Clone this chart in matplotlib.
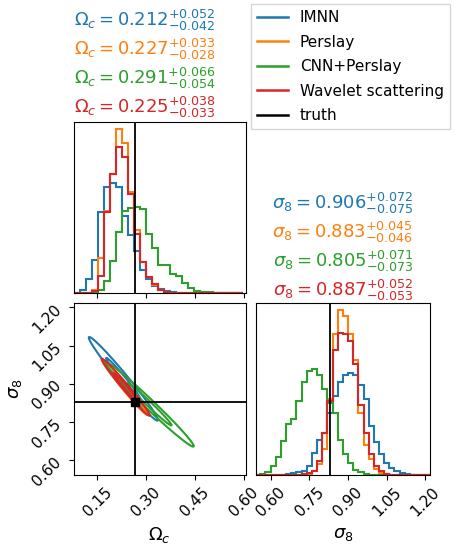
import numpy as np
import matplotlib
matplotlib.use("Agg")
import matplotlib.pyplot as plt

names = ["IMNN", "Perslay", "CNN+Perslay", "Wavelet scattering"]
colors = ["#1f77b4", "#ff7f0e", "#2ca02c", "#d62728"]
truth_om, truth_s8 = 0.267, 0.831

om_edges = 0.078 + 0.0185 * np.arange(29)
om_hist = [
    [0, 8, 40, 95, 233, 305, 315, 305, 222, 165, 120, 65, 40, 20, 12, 5, 2, 1, 0, 0, 0, 0, 0, 0, 0, 0, 0, 0],
    [0, 0, 0, 8, 100, 235, 340, 470, 430, 290, 180, 90, 45, 22, 10, 3, 1, 0, 0, 0, 0, 0, 0, 0, 0, 0, 0, 0],
    [0, 0, 0, 0, 10, 35, 92, 175, 235, 245, 248, 240, 170, 130, 80, 80, 55, 50, 30, 15, 5, 3, 2, 1, 0, 0, 0, 0],
    [0, 0, 0, 5, 48, 232, 340, 418, 390, 285, 170, 88, 45, 25, 10, 4, 1, 0, 0, 0, 0, 0, 0, 0, 0, 0, 0, 0],
]
s8_edges = 0.54 + 0.02 * np.arange(35)
s8_hist = [
    [0, 0, 0, 0, 0, 0, 3, 5, 8, 12, 25, 64, 100, 120, 175, 225, 265, 285, 290, 285, 255, 216, 140, 95, 60, 35, 20, 12, 5, 3, 1, 0, 0, 0],
    [0, 0, 0, 0, 0, 0, 0, 0, 0, 2, 4, 10, 30, 75, 215, 400, 469, 451, 400, 326, 176, 86, 46, 16, 5, 2, 0, 0, 0, 0, 0, 0, 0, 0],
    [0, 3, 8, 25, 50, 96, 146, 160, 211, 264, 295, 301, 285, 245, 205, 175, 100, 60, 35, 15, 8, 3, 1, 0, 0, 0, 0, 0, 0, 0, 0, 0, 0, 0],
    [0, 0, 0, 0, 0, 0, 0, 0, 0, 2, 5, 12, 40, 120, 210, 355, 405, 400, 380, 315, 200, 120, 60, 25, 10, 3, 1, 0, 0, 0, 0, 0, 0, 0],
]
# 2D gaussian summaries: mean_om, mean_s8, sd_om, sd_s8, rho
c_mean_om = [0.23, 0.235, 0.31, 0.237]
c_mean_s8 = [0.92, 0.885, 0.82, 0.887]
c_sd_om = [0.053, 0.034, 0.068, 0.037]
c_sd_s8 = [0.082, 0.053, 0.083, 0.056]
c_rho = [-0.985, -0.988, -0.988, -0.986]

om_titles = [("0.212", "0.052", "0.042"), ("0.227", "0.033", "0.028"),
             ("0.291", "0.066", "0.054"), ("0.225", "0.038", "0.033")]
s8_titles = [("0.906", "0.072", "0.075"), ("0.883", "0.045", "0.046"),
             ("0.805", "0.071", "0.073"), ("0.887", "0.052", "0.053")]
om_ticks = [0.15, 0.30, 0.45, 0.60]
s8_ticks = [0.60, 0.75, 0.90, 1.05, 1.20]
om_lim = (0.078, 0.605)
s8_lim = (0.543, 1.218)

fig = plt.figure(figsize=(4.67, 5.52), dpi=100)
ax00 = fig.add_axes([0.158, 0.469, 0.368, 0.310])
ax10 = fig.add_axes([0.158, 0.1395, 0.368, 0.312])
ax11 = fig.add_axes([0.548, 0.1395, 0.373, 0.312])

for i in range(4):
    ax00.stairs(om_hist[i], om_edges, color=colors[i], lw=1.5)
    ax11.stairs(s8_hist[i], s8_edges, color=colors[i], lw=1.5)
ax00.axvline(truth_om, color="k", lw=1.3)
ax11.axvline(truth_s8, color="k", lw=1.3)
ax00.set_xlim(*om_lim); ax00.set_ylim(0, 490)
ax11.set_xlim(*s8_lim); ax11.set_ylim(0, 490)

gx, gy = np.meshgrid(np.linspace(*om_lim, 400), np.linspace(*s8_lim, 400))
for i in range(4):
    dx = (gx - c_mean_om[i]) / c_sd_om[i]
    dy = (gy - c_mean_s8[i]) / c_sd_s8[i]
    r = c_rho[i]
    m2 = (dx**2 - 2 * r * dx * dy + dy**2) / (1 - r**2)
    ax10.contour(gx, gy, m2, levels=[1.0, 4.0], colors=[colors[i]], linewidths=1.5)
ax10.axvline(truth_om, color="k", lw=1.3)
ax10.axhline(truth_s8, color="k", lw=1.3)
ax10.plot([truth_om], [truth_s8], "ks", ms=6)
ax10.set_xlim(*om_lim); ax10.set_ylim(*s8_lim)

for ax in (ax00, ax10):
    ax.set_xticks(om_ticks)
ax00.set_xticklabels([])
ax00.set_yticks([])
ax11.set_yticks([])
ax10.set_xticklabels([f"{t:.2f}" for t in om_ticks], rotation=45, fontsize=11)
ax10.set_yticks(s8_ticks)
ax10.set_yticklabels([f"{t:.2f}" for t in s8_ticks], rotation=45, fontsize=11)
ax11.set_xticks(s8_ticks)
ax11.set_xticklabels([f"{t:.2f}" for t in s8_ticks], rotation=45, fontsize=11)
ax10.set_xlabel(r"$\Omega_c$", fontsize=13)
ax10.set_ylabel(r"$\sigma_8$", fontsize=13)
ax11.set_xlabel(r"$\sigma_8$", fontsize=13)

for i, (v, p, m) in enumerate(om_titles):
    fig.text(145 / 467, 1 - (20 + 29 * i) / 552,
             r"$\Omega_c = %s^{+%s}_{-%s}$" % (v, p, m), color=colors[i],
             fontsize=13, ha="center", va="center")
for i, (v, p, m) in enumerate(s8_titles):
    fig.text(343 / 467, 1 - (203 + 29 * i) / 552,
             r"$\sigma_8 = %s^{+%s}_{-%s}$" % (v, p, m), color=colors[i],
             fontsize=13, ha="center", va="center")

handles = [plt.Line2D([], [], color=c, lw=1.8) for c in colors] + \
          [plt.Line2D([], [], color="k", lw=1.8)]
fig.legend(handles, names + ["truth"], loc="upper left",
           bbox_to_anchor=(251 / 467, 1 - 4 / 552), fontsize=11,
           frameon=True, fancybox=False, edgecolor="0.8", handlelength=2,
           borderaxespad=0, labelspacing=0.62)

fig.savefig("out.png", dpi=100)
